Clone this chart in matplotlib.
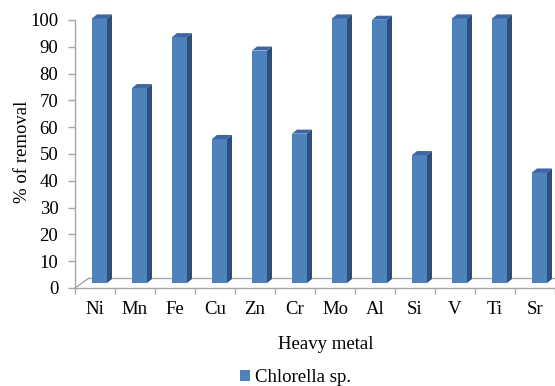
import matplotlib
matplotlib.use("Agg")
import matplotlib.pyplot as plt
from matplotlib.patches import Polygon, Patch

metals = ["Ni", "Mn", "Fe", "Cu", "Zn", "Cr", "Mo", "Al", "Si", "V", "Ti", "Sr"]
removal = [100, 74, 93, 55, 88, 57, 100, 99.5, 49, 100, 100, 42.5]
y_ticks = [0, 10, 20, 30, 40, 50, 60, 70, 80, 90, 100]
series_name = "Chlorella sp."

plt.rcParams["font.family"] = ["Liberation Serif", "DejaVu Serif"]

FRONT = "#4F81BD"
SIDE = "#2D4F7C"
TOP = "#3C67A3"
GRID = "#A6A6A6"

# pseudo-3D geometry, in data units
floor_dx, floor_dy = 0.35, 3.7     # depth of the floor
bar_dx, bar_dy = 0.125, 1.5        # depth of one column
bar_left, bar_w = -0.075, 0.375    # front face position relative to category
bar_base = 1.87                    # columns stand mid-way into the floor
bar_lift = 0.6

fig = plt.figure(figsize=(5.55, 3.86), dpi=100)
ax = fig.add_axes([75 / 555, 98 / 386, 480 / 555, 268 / 386])
ax.set_xlim(-0.5, len(metals) - 0.5)
ax.set_ylim(0, 100)

# floor outline
n = len(metals)
ax.plot([-0.5, -0.5 + floor_dx], [0, floor_dy], color=GRID, lw=1, clip_on=False)
ax.plot([-0.5 + floor_dx, n - 0.5 + floor_dx], [floor_dy, floor_dy],
        color=GRID, lw=1, clip_on=False, zorder=1)

for i, v in enumerate(removal):
    x0 = i + bar_left
    x1 = x0 + bar_w
    y0 = bar_base
    y1 = v + bar_lift
    ax.add_patch(Polygon([(x0, y0), (x1, y0), (x1, y1), (x0, y1)],
                         closed=True, fc=FRONT, ec="none", zorder=3, clip_on=False))
    ax.add_patch(Polygon([(x1, y0), (x1 + bar_dx, y0 + bar_dy),
                          (x1 + bar_dx, y1 + bar_dy), (x1, y1)],
                         closed=True, fc=SIDE, ec="none", zorder=3, clip_on=False))
    ax.add_patch(Polygon([(x0, y1), (x1, y1), (x1 + bar_dx, y1 + bar_dy),
                          (x0 + bar_dx, y1 + bar_dy)],
                         closed=True, fc=TOP, ec="none", zorder=3, clip_on=False))

for side in ["top", "right"]:
    ax.spines[side].set_visible(False)
for side in ["left", "bottom"]:
    ax.spines[side].set_color(GRID)
    ax.spines[side].set_linewidth(1)

ax.set_yticks(y_ticks)
ax.tick_params(axis="y", colors=GRID, length=5, width=1, pad=7, labelsize=13.5,
               labelcolor="black")

# tick marks between categories, labels at category centres
ax.set_xticks([i - 0.5 for i in range(n + 1)])
ax.set_xticklabels([])
ax.set_xticks(range(n), minor=True)
ax.set_xticklabels(metals, minor=True)
ax.tick_params(axis="x", which="major", colors=GRID, length=4, width=1)
ax.tick_params(axis="x", which="minor", length=0, pad=9, labelsize=13.5)

ax.set_ylabel("% of removal", fontsize=13.5)
ax.yaxis.set_label_coords(-0.11, 0.507)
ax.yaxis.label.set_va("center")
ax.set_xlabel("Heavy metal", fontsize=13.5)
ax.xaxis.set_label_coords(0.523, -0.21)
ax.xaxis.label.set_va("center")

fig.legend(handles=[Patch(fc=FRONT, ec="none", label=series_name)],
           loc="center", bbox_to_anchor=(0.532, 0.021), frameon=False,
           fontsize=13.5, handlelength=0.55, handleheight=0.55, handletextpad=0.25,
           borderpad=0, borderaxespad=0)

fig.savefig("out.png", dpi=100)
